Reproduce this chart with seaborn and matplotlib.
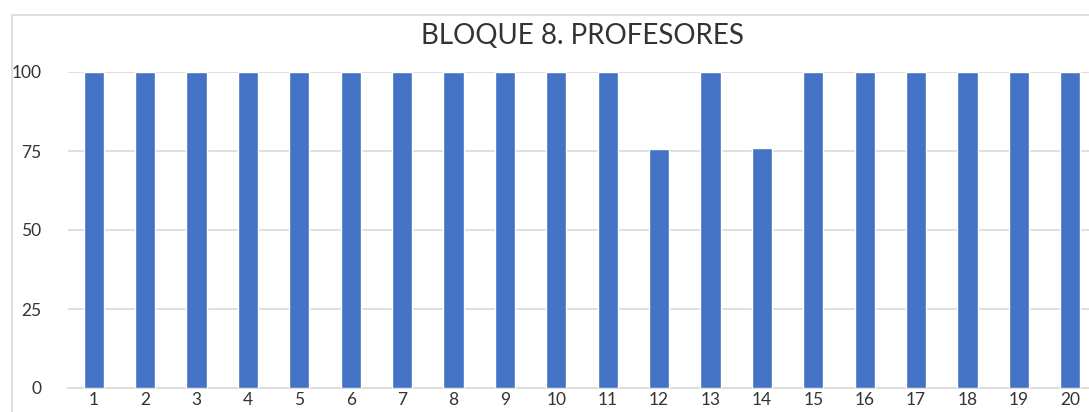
import matplotlib
matplotlib.use("Agg")
import matplotlib.pyplot as plt
import seaborn as sns
import pandas as pd
from matplotlib.patches import Rectangle

categories = [str(i) for i in range(1, 21)]
values = [100, 100, 100, 100, 100, 100, 100, 100, 100, 100,
          100, 75.5, 100, 76, 100, 100, 100, 100, 100, 100]
yticks = [0, 25, 50, 75, 100]
title = "BLOQUE 8. PROFESORES"

sns.set_theme(style="white")
plt.rcParams['font.family'] = ['Lato', 'DejaVu Sans']

W, H = 1089, 412
fig = plt.figure(figsize=(W / 100, H / 100), dpi=100)
fig.patch.set_facecolor("white")
fig.patches.append(Rectangle((12 / W, -0.1), 1.2, (412 - 15) / H + 0.1,
                             transform=fig.transFigure, fill=False,
                             edgecolor="#d9d9d9", linewidth=1.2))

ax = fig.add_axes([68 / W, 24 / H, (1096 - 68) / W, (388 - 72) / H])
df = pd.DataFrame({"cat": categories, "val": values})
sns.barplot(data=df, x="cat", y="val", color="#4472C4", saturation=1,
            width=0.39, ax=ax, zorder=3)
ax.set_ylim(0, 100)
ax.set_xlim(-0.5, len(categories) - 0.5)
ax.set_yticks(yticks)
ax.set_yticklabels([str(t) for t in yticks])
ax.yaxis.grid(True, color="#d9d9d9", linewidth=1.2, zorder=0)
ax.set_axisbelow(True)
for s in ax.spines.values():
    s.set_visible(False)
ax.spines["bottom"].set_visible(True)
ax.spines["bottom"].set_color("#d9d9d9")
ax.spines["bottom"].set_linewidth(1.2)
ax.set_xlabel("")
ax.set_ylabel("")
ax.tick_params(axis="both", length=0, labelsize=12.5, colors="#333333")
ax.tick_params(axis="y", pad=19)
ax.tick_params(axis="x", pad=3)
fig.text(582 / W, 1 - 36 / H, title, ha="center", va="center",
         fontsize=20, color="#333333")
fig.savefig("out.png", dpi=100)
